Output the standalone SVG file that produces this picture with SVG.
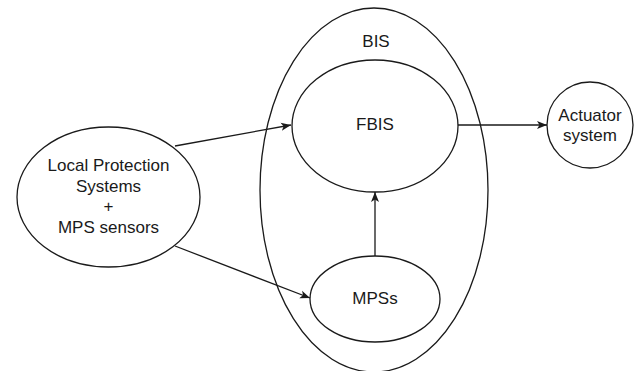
<svg xmlns="http://www.w3.org/2000/svg" width="634" height="371" viewBox="0 0 634 371">
<style>
  .shape { fill: #ffffff; stroke: #1a1a1a; stroke-width: 1.3; }
  .lbl { font-family: "Liberation Sans", Arial, sans-serif; font-size: 17px; fill: #1a1a1a; text-anchor: middle; }
  .conn { fill: none; stroke: #1a1a1a; stroke-width: 1.3; marker-end: url(#arrow); }
</style>
<defs>
  <marker id="arrow" viewBox="0 0 10 10" refX="10" refY="5" markerWidth="10" markerHeight="10" markerUnits="userSpaceOnUse" orient="auto">
    <path d="M0,1 L10,5 L0,9 L2.5,5 Z" fill="#1a1a1a"/>
  </marker>
</defs>
<rect width="634" height="371" fill="#ffffff"/>
<g id="bis">
  <ellipse class="shape" cx="374" cy="190" rx="114" ry="182"/>
  <text class="lbl" x="376" y="47">BIS</text>
</g>
<g id="fbis">
  <ellipse class="shape" cx="375" cy="126" rx="83" ry="66"/>
  <text class="lbl" x="375" y="130">FBIS</text>
</g>
<g id="mpss">
  <ellipse class="shape" cx="375" cy="299" rx="65" ry="43"/>
  <text class="lbl" x="375" y="304">MPSs</text>
</g>
<g id="lps">
  <ellipse class="shape" cx="108.5" cy="197" rx="91.5" ry="70"/>
  <text class="lbl" x="108.5" y="171">Local Protection</text>
  <text class="lbl" x="108.5" y="191.5">Systems</text>
  <text class="lbl" x="108.5" y="212">+</text>
  <text class="lbl" x="108.5" y="232.5">MPS sensors</text>
</g>
<g id="actuator">
  <circle class="shape" cx="590" cy="125" r="43"/>
  <text class="lbl" x="590" y="121">Actuator</text>
  <text class="lbl" x="590" y="141">system</text>
</g>
<g id="connectors">
  <line class="conn" x1="175" y1="146" x2="291" y2="125"/>
  <line class="conn" x1="175" y1="246" x2="310" y2="298"/>
  <line class="conn" x1="375" y1="256" x2="375" y2="192"/>
  <line class="conn" x1="458" y1="125" x2="547" y2="125"/>
</g>
</svg>
